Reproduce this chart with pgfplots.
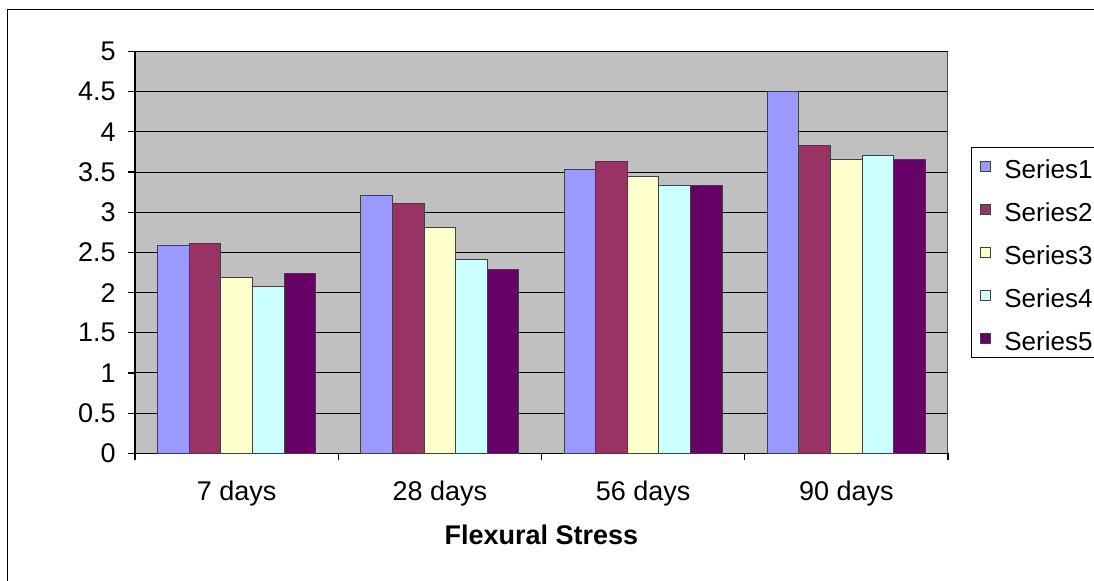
\documentclass[border=0pt]{standalone}
\usepackage{pgfplots}
\pgfplotsset{compat=1.18}
\usepackage{fontspec}
\setmainfont{Liberation Sans}

\definecolor{sone}{HTML}{9999FF}
\definecolor{stwo}{HTML}{993366}
\definecolor{sthree}{HTML}{FFFFCC}
\definecolor{sfour}{HTML}{CCFFFF}
\definecolor{sfive}{HTML}{660066}
\definecolor{plotgray}{HTML}{C0C0C0}

\newcommand{\chartfont}{\fontsize{13.5}{16}\selectfont}
\newcommand{\legendfont}{\fontsize{13}{15.6}\selectfont}

\begin{document}
\begin{tikzpicture}
\useasboundingbox (0,0) rectangle (547pt,290pt);
% chart frame (only left and top edges fall inside the picture)
\draw[line width=0.6pt] (3.75pt,-5pt) -- (3.75pt,285.25pt) -- (560pt,285.25pt);
% legend frame
\draw[line width=0.5pt] (560pt,216.35pt) -- (485.5pt,216.35pt) -- (485.5pt,111.35pt) -- (560pt,111.35pt);

\begin{axis}[
    at={(67.5pt,63.35pt)}, anchor=south west,
    width=406.5pt, height=200.9pt, scale only axis,
    font=\chartfont,
    axis background/.style={fill=plotgray},
    ybar=0pt, bar width=0.1555,
    xmin=-0.5, xmax=3.5,
    ymin=0, ymax=5,
    xtick={0,1,2,3},
    xticklabels={7 days,28 days,56 days,90 days},
    minor xtick={-0.5,0.5,1.5,2.5,3.5},
    ytick={0,0.5,1,1.5,2,2.5,3,3.5,4,4.5,5},
    /pgf/number format/assume math mode=true,
    axis x line*=bottom, axis y line*=left,
    axis line style={black, line width=0.6pt},
    tick align=outside,
    major tick length=3.5pt, minor tick length=3.5pt,
    major x tick style={draw=none},
    minor x tick style={black, line width=0.6pt},
    major y tick style={black, line width=0.6pt},
    ymajorgrids=true,
    major grid style={black, line width=0.5pt},
    xticklabel style={anchor=base, yshift=-20pt},
    yticklabel style={anchor=east, inner sep=0pt, xshift=-6pt},
    xlabel={Flexural Stress},
    xlabel style={at={(axis description cs:0.5,0)}, anchor=base, yshift=-45.5pt, font=\chartfont\bfseries},
    legend image code/.code={\draw[#1, line width=0.5pt] (0pt,0pt) rectangle (5pt,5pt);},
    legend cell align=left,
    legend style={at={(rel axis cs:1,1)}, anchor=north west, xshift=16pt, yshift=-53.9pt,
        draw=none, fill=none, inner sep=0pt, row sep=9.5pt, column sep=6.5pt,
        nodes={inner sep=0pt, text height=9.5pt, text depth=2.5pt}, font=\legendfont},
    after end axis/.code={\draw[gray!60!black, line width=0.5pt] (rel axis cs:1,0) -- (rel axis cs:1,1);},
    every axis plot/.append style={draw=black!75, line width=0.5pt},
]
\addplot[fill=sone] coordinates {(0,2.59) (1,3.21) (2,3.53) (3,4.50)};
\addplot[fill=stwo] coordinates {(0,2.61) (1,3.11) (2,3.63) (3,3.83)};
\addplot[fill=sthree] coordinates {(0,2.19) (1,2.81) (2,3.45) (3,3.66)};
\addplot[fill=sfour] coordinates {(0,2.08) (1,2.41) (2,3.33) (3,3.71)};
\addplot[fill=sfive] coordinates {(0,2.24) (1,2.29) (2,3.33) (3,3.66)};
\legend{Series1,Series2,Series3,Series4,Series5}
\end{axis}
\end{tikzpicture}
\end{document}
